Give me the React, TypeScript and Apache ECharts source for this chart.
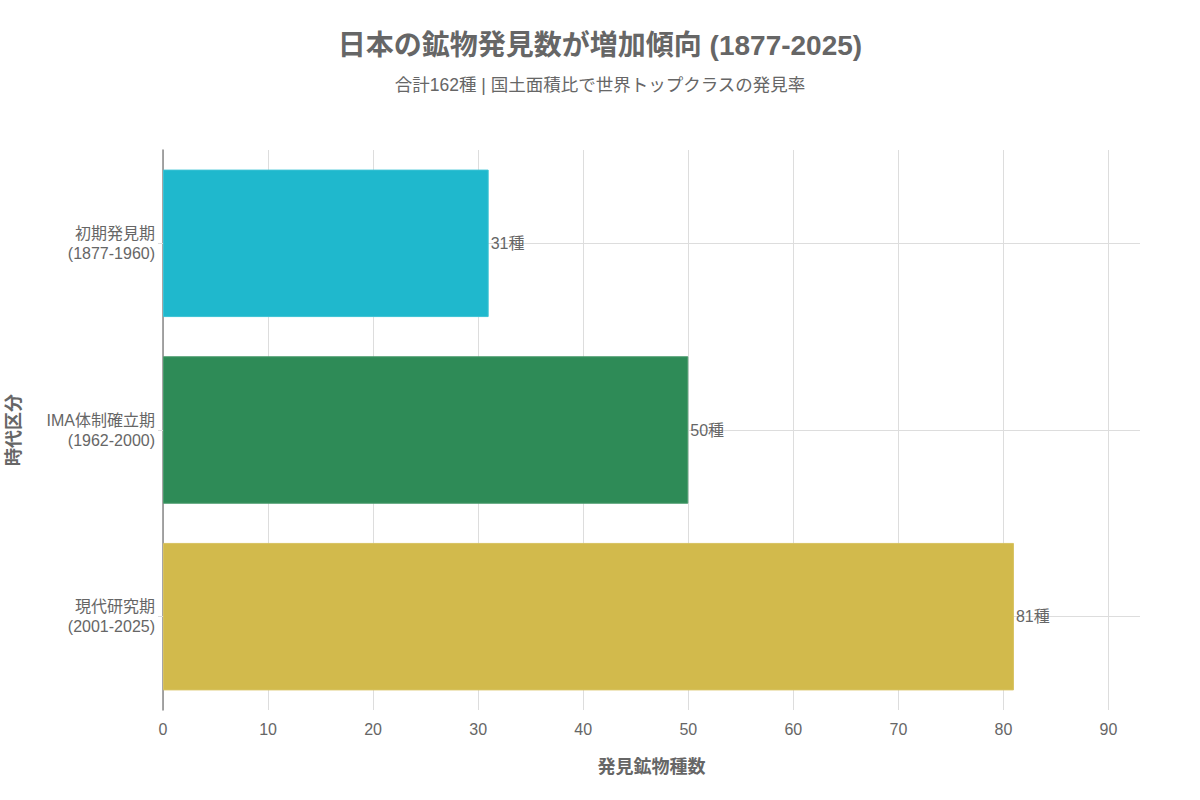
import React, { useEffect, useRef } from "react";
import * as echarts from "echarts";

const categories = ["初期発見期\n(1877-1960)", "IMA体制確立期\n(1962-2000)", "現代研究期\n(2001-2025)"];
const values = [31, 50, 81];
const colors = ["#1FB8CD", "#2E8B57", "#D2BA4C"];
const borderColors = ["#3CC3D4", "#4A9A6C", "#D8C262"];
const xTicks = [0, 10, 20, 30, 40, 50, 60, 70, 80, 90];

const FONT = "'Liberation Sans', 'Noto Sans CJK JP', sans-serif";

export default function App() {
  const ref = useRef<HTMLDivElement>(null);
  useEffect(() => {
    if (!ref.current) return;
    const chart = echarts.init(ref.current, undefined, { renderer: "svg" });
    const splitColors = xTicks.map(() => "#dddddd").concat(["rgba(0,0,0,0)"]);
    chart.setOption({
      animation: false,
      backgroundColor: "#ffffff",
      textStyle: { fontFamily: FONT },
      title: {
        text: "日本の鉱物発見数が増加傾向 (1877-2025)",
        subtext: "合計162種 | 国土面積比で世界トップクラスの発見率",
        left: "center",
        top: 26,
        itemGap: 17,
        textStyle: { fontSize: 28, fontWeight: "bold", color: "#666666", fontFamily: FONT },
        subtextStyle: { fontSize: 17.5, color: "#666666", fontFamily: FONT },
      },
      grid: { left: 163, right: 60, top: 150, bottom: 90, containLabel: false, outerBoundsMode: "none" },
      xAxis: {
        type: "value",
        min: 0,
        max: 93,
        interval: 10,
        name: "発見鉱物種数",
        nameLocation: "middle",
        nameGap: 48,
        nameTextStyle: { fontSize: 18, fontWeight: "bold", color: "#666666", fontFamily: FONT },
        axisLine: { show: false },
        axisTick: { show: false },
        axisLabel: { fontSize: 16, color: "#666666", margin: 11, showMaxLabel: false, fontFamily: FONT },
        splitLine: { show: true, lineStyle: { color: splitColors, width: 1 } },
      },
      yAxis: {
        type: "category",
        data: categories,
        inverse: true,
        name: "時代区分",
        nameLocation: "middle",
        nameGap: 140,
        nameRotate: 90,
        nameTextStyle: { fontSize: 18, fontWeight: "bold", color: "#666666", fontFamily: FONT },
        axisLine: { show: true, lineStyle: { color: "#888888", width: 1.5 } },
        axisTick: { show: true, alignWithLabel: true, length: 5, lineStyle: { color: "#dddddd" } },
        axisLabel: { fontSize: 16, color: "#666666", margin: 8, lineHeight: 20, align: "right", fontFamily: FONT },
        splitLine: { show: true, alignWithLabel: true, lineStyle: { color: "#dddddd", width: 1 } },
      },
      series: [
        {
          type: "bar",
          barWidth: "79%",
          data: values.map((v, i) => ({
            value: v,
            itemStyle: { color: colors[i], borderColor: borderColors[i], borderWidth: 1 },
          })),
          label: {
            show: true,
            position: "right",
            distance: 2,
            formatter: (p: any) => `${p.value}種`,
            fontSize: 16,
            color: "#666666",
            fontFamily: FONT,
          },
        },
      ],
    });
    return () => chart.dispose();
  }, []);
  return <div ref={ref} style={{ position: "absolute", left: 0, top: 0, width: 1200, height: 800 }} />;
}
